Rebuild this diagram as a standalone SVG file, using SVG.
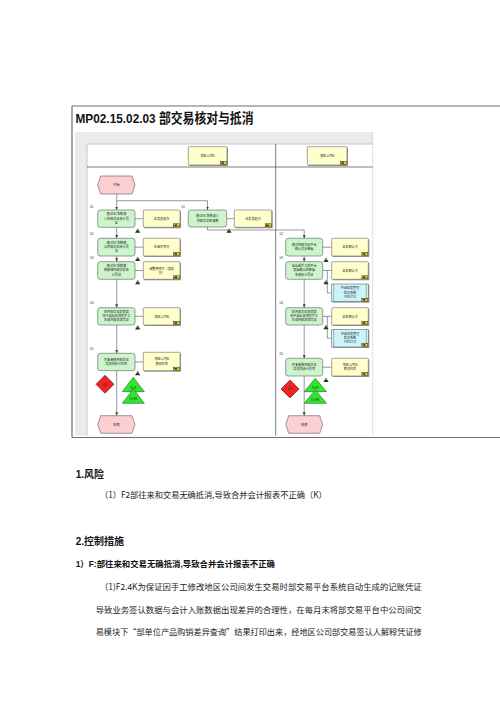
<svg xmlns="http://www.w3.org/2000/svg" xmlns:xlink="http://www.w3.org/1999/xlink" width="500" height="707" viewBox="0 0 500 707">
<defs>
<style>
.fn{fill:#ccf5cc;stroke:#5a5a5a;stroke-width:0.6}
.dc{fill:#ffffcc;stroke:#6a6a6a;stroke-width:0.6}
.sy{fill:#ccf4fb;stroke:#6a6a6a;stroke-width:0.6}
.hx{fill:#fccfd2;stroke:#5a5a5a;stroke-width:0.6}
.sh{fill:#9a9a9a}
.t{font-family:"Noto Sans CJK SC","Liberation Sans",sans-serif;font-size:3.1px;fill:#222;text-anchor:middle}
.n{font-family:"Liberation Sans",sans-serif;font-size:3.2px;fill:#333}
.cn{fill:none;stroke:#555;stroke-width:0.6}
.body{font-family:"Noto Sans CJK SC",sans-serif;font-size:8.4px;fill:#222}
.hd{font-family:"Liberation Sans","Noto Sans CJK SC",sans-serif;font-weight:bold;fill:#111}
</style>
<marker id="ar" markerWidth="4" markerHeight="4" refX="3.5" refY="2" orient="auto" markerUnits="userSpaceOnUse">
<path d="M0,0.5 L3.5,2 L0,3.5 Z" fill="#444"/>
</marker>
<g id="ico"><rect x="-6" y="-3" width="6" height="3" fill="#e8d020" stroke="#222" stroke-width="0.5"/><rect x="-5" y="-2.2" width="2.5" height="1.4" fill="#222"/></g>
<g id="per"><path d="M0,-2.3 L2.6,2 L-2.6,2 Z" fill="#1c3a1c"/><path d="M0,-1.6 L1,0 L-1,0 Z" fill="#4caf50"/></g>
<g id="stripes"><line x1="2" y1="0" x2="2" y2="17.7" stroke="#6a6a6a" stroke-width="0.5"/><line x1="34.6" y1="0" x2="34.6" y2="17.7" stroke="#6a6a6a" stroke-width="0.5"/></g>
</defs>

<rect x="0" y="0" width="500" height="707" fill="#ffffff"/>

<!-- document frame -->
<g id="frame">
<line x1="72" y1="106" x2="500" y2="106" stroke="#6e6e6e" stroke-width="1.2"/>
<line x1="72" y1="106" x2="72" y2="437.5" stroke="#6e6e6e" stroke-width="1.2"/>
<line x1="72" y1="437.5" x2="500" y2="437.5" stroke="#6e6e6e" stroke-width="1.2"/>
<text class="hd" x="75.5" y="123" font-size="13.5" textLength="178" lengthAdjust="spacingAndGlyphs">MP02.15.02.03  部交易核对与抵消</text>
</g>

<!-- diagram background and lanes -->
<g id="lanes">
<rect x="75" y="132" width="297.7" height="303.5" fill="#ebebeb"/>
<rect x="87" y="144" width="285.7" height="291.5" fill="#ffffff"/>
<line x1="87" y1="144" x2="372.7" y2="144" stroke="#a9bedc" stroke-width="0.8"/>
<line x1="87" y1="144" x2="87" y2="435.5" stroke="#a9bedc" stroke-width="0.8"/>
<line x1="87" y1="167" x2="372.7" y2="167" stroke="#444" stroke-width="0.7"/>
<line x1="275.7" y1="144" x2="275.7" y2="435.5" stroke="#444" stroke-width="0.7"/>
<line x1="372.7" y1="132" x2="372.7" y2="435.5" stroke="#b0b0b0" stroke-width="0.6" stroke-dasharray="1.5,1"/>
</g>

<g id="laneA">
<rect class="sh" x="189.3" y="147.7" width="38.7" height="18.3"/>
<rect class="dc" x="188.3" y="146.7" width="38.7" height="18.3" rx="0.8"/>
<text class="t" x="207.6" y="156.8">地区公司A</text>
<use xlink:href="#ico" x="226.5" y="164.5"/>
</g>
<g id="laneB">
<rect class="sh" x="308.3" y="147.7" width="39.7" height="18.3"/>
<rect class="dc" x="307.3" y="146.7" width="39.7" height="18.3" rx="0.8"/>
<text class="t" x="327.1" y="156.8">地区公司B</text>
<use xlink:href="#ico" x="346.5" y="164.5"/>
</g>

<!-- connectors -->
<g id="connectors">
<path class="cn" d="M116.7,194 V210" marker-end="url(#ar)"/>
<path class="cn" d="M116.7,200.7 H207.5 V210" marker-end="url(#ar)"/>
<path class="cn" d="M116.7,227.3 V238.3" marker-end="url(#ar)"/>
<path class="cn" d="M116.7,256 V261.7" marker-end="url(#ar)"/>
<path class="cn" d="M116.7,279.3 V307.7" marker-end="url(#ar)"/>
<path class="cn" d="M116.7,325 V353.3" marker-end="url(#ar)"/>
<path class="cn" d="M116.7,370.7 V415.7" marker-end="url(#ar)"/>
<path class="cn" d="M135,218.7 H143.3"/>
<path class="cn" d="M135,247.2 H143.3"/>
<path class="cn" d="M135,270.5 H143.3"/>
<path class="cn" d="M135,316.3 H143.3"/>
<path class="cn" d="M135,362 H143.3"/>
<path class="cn" d="M226.7,218.7 H234.3"/>
<path class="cn" d="M207.5,227 V230 H304.2 V238.3" marker-end="url(#ar)"/>
<path class="cn" d="M304.2,256 V261.7" marker-end="url(#ar)"/>
<path class="cn" d="M304.2,279.3 V307.7" marker-end="url(#ar)"/>
<path class="cn" d="M304.2,325 V358.3" marker-end="url(#ar)"/>
<path class="cn" d="M304.2,376 V415.7" marker-end="url(#ar)"/>
<path class="cn" d="M322.7,247.2 H331.7"/>
<path class="cn" d="M322.7,270.5 H331.7"/>
<path class="cn" d="M327.3,270.5 V293 H331.7"/>
<path class="cn" d="M322.7,316.3 H331.7"/>
<path class="cn" d="M327.3,316.3 V338.2 H331.7"/>
<path class="cn" d="M322.7,367.2 H331.7"/>
</g>

<!-- left lane nodes -->
<g id="startA">
<polygon class="hx" points="100.7,176 132,176 135,185 132,194 100.7,194 97.7,185"/>
<text class="t" x="116.4" y="186.1">开始</text>
</g>
<g id="labelsA">
<text class="n" x="90" y="208">01</text>
<text class="n" x="181.5" y="208">01</text>
<text class="n" x="90" y="235">02</text>
<text class="n" x="90" y="258.5">03</text>
<text class="n" x="90" y="304">04</text>
<text class="n" x="90" y="350">05</text>
<text class="n" x="279.5" y="235">02</text>
<text class="n" x="279.5" y="258.5">03</text>
<text class="n" x="279.5" y="304">04</text>
<text class="n" x="279.5" y="355">05</text>
</g>
<g id="A1">
<rect class="fn" x="97.7" y="210" width="37.3" height="17.3" rx="2.5"/>
<text class="t" x="116.4" y="215.3">通过NC系统录</text>
<text class="t" x="116.4" y="219.5">入内部交易会计凭</text>
<text class="t" x="116.4" y="223.7">证</text>
</g>
<g id="DA1">
<rect class="sh" x="144.3" y="211" width="36.7" height="17.3"/>
<rect class="dc" x="143.3" y="210" width="36.7" height="17.3" rx="0.8"/>
<text class="t" x="161.6" y="219.8">业务发起方</text>
<use xlink:href="#ico" x="179.5" y="226.8"/>
</g>
<g id="A2">
<rect class="fn" x="97.7" y="238.3" width="37.3" height="17.7" rx="2.5"/>
<text class="t" x="116.4" y="243.8">通过NC系统确</text>
<text class="t" x="116.4" y="248">认内部交易会计凭</text>
<text class="t" x="116.4" y="252.2">证</text>
</g>
<g id="DA2">
<rect class="sh" x="144.3" y="239.3" width="36.7" height="17.7"/>
<rect class="dc" x="143.3" y="238.3" width="36.7" height="17.7" rx="0.8"/>
<text class="t" x="161.6" y="248.3">往来对象方</text>
<use xlink:href="#ico" x="179.5" y="255.5"/>
</g>
<g id="A3">
<rect class="fn" x="97.7" y="261.7" width="37.3" height="17.6" rx="2.5"/>
<text class="t" x="116.4" y="267.1">通过NC系统复</text>
<text class="t" x="116.4" y="271.3">核审核内部交易会</text>
<text class="t" x="116.4" y="275.5">计凭证</text>
</g>
<g id="DA3">
<rect class="sh" x="144.3" y="262.7" width="36.7" height="17.6"/>
<rect class="dc" x="143.3" y="261.7" width="36.7" height="17.6" rx="0.8"/>
<text class="t" x="161.6" y="269.5">调整责任方（发起</text>
<text class="t" x="161.6" y="273.7">方）</text>
<use xlink:href="#ico" x="179.5" y="278.8"/>
</g>
<g id="A4">
<rect class="fn" x="97.7" y="307.7" width="37.3" height="17.3" rx="2.5"/>
<text class="t" x="116.4" y="313">在内部交易抵消报</text>
<text class="t" x="116.4" y="317.2">告中自动抵消并手工</text>
<text class="t" x="116.4" y="321.4">生成内部抵消凭证</text>
</g>
<g id="DA4">
<rect class="sh" x="144.3" y="308.7" width="36.7" height="17.3"/>
<rect class="dc" x="143.3" y="307.7" width="36.7" height="17.3" rx="0.8"/>
<text class="t" x="161.6" y="317.5">地区公司B</text>
<use xlink:href="#ico" x="179.5" y="324.5"/>
</g>
<g id="A5">
<rect class="fn" x="97.7" y="353.3" width="37.3" height="17.4" rx="2.5"/>
<text class="t" x="116.4" y="360.8">月末审核内部交易</text>
<text class="t" x="116.4" y="365">及抵消会计科目</text>
</g>
<g id="DA5">
<rect class="sh" x="144.3" y="353.3" width="36.7" height="18.4"/>
<rect class="dc" x="143.3" y="352.3" width="36.7" height="18.4" rx="0.8"/>
<text class="t" x="161.6" y="360.3">地区公司B</text>
<text class="t" x="161.6" y="364.5">相关科目</text>
<use xlink:href="#ico" x="179.5" y="370.2"/>
</g>
<g id="personsA">
<use xlink:href="#per" x="137.7" y="230.7"/>
<use xlink:href="#per" x="137.7" y="259"/>
<use xlink:href="#per" x="137.7" y="282.3"/>
<use xlink:href="#per" x="137.7" y="327.6"/>
<use xlink:href="#per" x="137.7" y="373.3"/>
<use xlink:href="#per" x="229" y="230.7"/>
<use xlink:href="#per" x="326" y="260"/>
<use xlink:href="#per" x="326" y="282.3"/>
<use xlink:href="#per" x="326" y="327.3"/>
<use xlink:href="#per" x="326" y="380"/>
</g>
<g id="riskA">
<polygon points="105,375.3 114,384.3 105,393.3 96,384.3" fill="#f02424" stroke="#5a1010" stroke-width="0.6"/>
<text class="t" x="105" y="385.5">F2</text>
</g>
<g id="ctrlA">
<polygon points="133.3,377.3 144.3,391.7 122.3,391.7" fill="#2ee82e" stroke="#2a5a2a" stroke-width="0.6"/>
<text class="t" x="133.3" y="388.5">F2.4</text>
<polygon points="133.3,389 144.3,403.3 122.3,403.3" fill="#2ee82e" stroke="#2a5a2a" stroke-width="0.6"/>
<text class="t" x="133.3" y="400.2">F2.4K</text>
</g>
<g id="endA">
<polygon class="hx" points="100.7,415.7 132,415.7 135,424.5 132,433.3 100.7,433.3 97.7,424.5"/>
<text class="t" x="116.4" y="425.6">结束</text>
</g>

<!-- right lane nodes -->
<g id="B1">
<rect class="fn" x="188.3" y="210" width="38.4" height="17" rx="2.5"/>
<text class="t" x="207.5" y="217.4">通过NC系统录入</text>
<text class="t" x="207.5" y="221.6">内部交易申请单</text>
</g>
<g id="DB1">
<rect class="sh" x="235.3" y="211" width="37.4" height="17.3"/>
<rect class="dc" x="234.3" y="210" width="37.4" height="17.3" rx="0.8"/>
<text class="t" x="253" y="219.8">业务发起方</text>
<use xlink:href="#ico" x="271.2" y="226.8"/>
</g>
<g id="B2">
<rect class="fn" x="285.7" y="238.3" width="37" height="17.7" rx="2.5"/>
<text class="t" x="304.2" y="245.9">通过内部交易平台</text>
<text class="t" x="304.2" y="250.1">确认交易单据</text>
</g>
<g id="DB2">
<rect class="sh" x="332.7" y="239.3" width="36.6" height="17.7"/>
<rect class="dc" x="331.7" y="238.3" width="36.6" height="17.7" rx="0.8"/>
<text class="t" x="350" y="248.3">业务确认方</text>
<use xlink:href="#ico" x="367.8" y="255.5"/>
</g>
<g id="B3">
<rect class="fn" x="285.7" y="261.7" width="37" height="17.6" rx="2.5"/>
<text class="t" x="304.2" y="267.1">自动或手工在平台</text>
<text class="t" x="304.2" y="271.3">根据确认的单据</text>
<text class="t" x="304.2" y="275.5">生成会计凭证</text>
</g>
<g id="DB3">
<rect class="sh" x="332.7" y="262.7" width="36.6" height="17.6"/>
<rect class="dc" x="331.7" y="261.7" width="36.6" height="17.6" rx="0.8"/>
<text class="t" x="350" y="271.6">业务确认方</text>
<use xlink:href="#ico" x="367.8" y="278.8"/>
</g>
<g id="SB3">
<rect class="sh" x="332.7" y="285" width="36.6" height="17.7"/>
<rect class="sy" x="331.7" y="284" width="36.6" height="17.7"/>
<use xlink:href="#stripes" x="331.7" y="284"/>
<text class="t" x="350" y="289.4">中油财务管理</text>
<text class="t" x="350" y="293.6">信息系统</text>
<text class="t" x="350" y="297.8">FMIS7.0</text>
<use xlink:href="#ico" x="367.8" y="301.2"/>
</g>
<g id="B4">
<rect class="fn" x="285.7" y="307.7" width="37" height="17.3" rx="2.5"/>
<text class="t" x="304.2" y="313">在内部交易抵消报</text>
<text class="t" x="304.2" y="317.2">告中自动抵消并手工</text>
<text class="t" x="304.2" y="321.4">生成内部抵消凭证</text>
</g>
<g id="DB4">
<rect class="sh" x="332.7" y="308.7" width="36.6" height="17.3"/>
<rect class="dc" x="331.7" y="307.7" width="36.6" height="17.3" rx="0.8"/>
<text class="t" x="350" y="317.5">业务确认方</text>
<use xlink:href="#ico" x="367.8" y="324.5"/>
</g>
<g id="SB4">
<rect class="sh" x="332.7" y="330.3" width="36.6" height="17.7"/>
<rect class="sy" x="331.7" y="329.3" width="36.6" height="17.7"/>
<use xlink:href="#stripes" x="331.7" y="329.3"/>
<text class="t" x="350" y="334.7">中油财务管理</text>
<text class="t" x="350" y="338.9">信息系统</text>
<text class="t" x="350" y="343.1">FMIS7.0</text>
<use xlink:href="#ico" x="367.8" y="346.5"/>
</g>
<g id="B5">
<rect class="fn" x="285.7" y="358.3" width="37" height="17.7" rx="2.5"/>
<text class="t" x="304.2" y="365.9">月末审核内部交易</text>
<text class="t" x="304.2" y="370.1">及抵消会计科目</text>
</g>
<g id="DB5">
<rect class="sh" x="332.7" y="359.3" width="36.6" height="17.7"/>
<rect class="dc" x="331.7" y="358.3" width="36.6" height="17.7" rx="0.8"/>
<text class="t" x="350" y="365.9">地区公司B</text>
<text class="t" x="350" y="370.1">相关科目</text>
<use xlink:href="#ico" x="367.8" y="375.5"/>
</g>
<g id="riskB">
<polygon points="290,380 299,389 290,398 281,389" fill="#f02424" stroke="#5a1010" stroke-width="0.6"/>
<text class="t" x="290" y="390.2">F2</text>
</g>
<g id="ctrlB">
<polygon points="315.3,378.3 326.5,391.7 304.2,391.7" fill="#2ee82e" stroke="#2a5a2a" stroke-width="0.6"/>
<text class="t" x="315.3" y="389">F2.4</text>
<polygon points="315.3,390 326.5,403.3 304.2,403.3" fill="#2ee82e" stroke="#2a5a2a" stroke-width="0.6"/>
<text class="t" x="315.3" y="400.5">F2.4K</text>
</g>
<g id="endB">
<polygon class="hx" points="288.7,415.7 319.7,415.7 322.7,424.5 319.7,433.3 288.7,433.3 285.7,424.5"/>
<text class="t" x="304.2" y="425.6">结束</text>
</g>

<!-- page text -->
<g id="pagetext">
<text class="hd" x="75.7" y="477.5" font-size="10">1.风险</text>
<text class="body" x="100" y="498.3" textLength="226.7" lengthAdjust="spacingAndGlyphs">（1）F2部往来和交易无确抵消,导致合并会计报表不正确（K）</text>
<text class="hd" x="75.7" y="545" font-size="10">2.控制措施</text>
<text class="hd" x="75.7" y="566.7" font-size="8.5" textLength="199.3" lengthAdjust="spacingAndGlyphs">1）F:部往来和交易无确抵消,导致合并会计报表不正确</text>
<text class="body" x="100" y="590" textLength="321.7" lengthAdjust="spacingAndGlyphs">（1)F2.4K为保证因手工修改地区公司间发生交易时部交易平台系统自动生成的记账凭证</text>
<text class="body" x="95.7" y="613.3" textLength="326" lengthAdjust="spacingAndGlyphs">导致业务签认数据与会计入账数据出现差异的合理性，在每月末将部交易平台中公司间交</text>
<text class="body" x="95.7" y="635" textLength="326" lengthAdjust="spacingAndGlyphs">易模块下“部单位产品购销差异查询”结果打印出来，经地区公司部交易签认人解释凭证修</text>
</g>
</svg>
